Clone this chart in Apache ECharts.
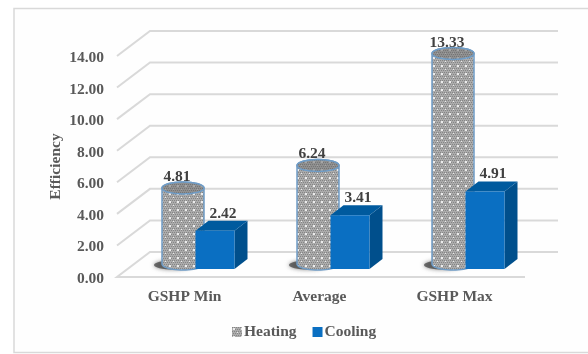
<!DOCTYPE html>
<html>
<head>
<meta charset="utf-8">
<style>
  html, body { margin: 0; padding: 0; background: #fff; }
  #chart { width: 588px; height: 354px; }
</style>
<script src="https://cdn.jsdelivr.net/npm/echarts@6/dist/echarts.min.js"></script>
</head>
<body>
<div id="chart"></div>
<script>
const categories = ["GSHP Min", "Average", "GSHP Max"];
const heating = [4.81, 6.24, 13.33];
const cooling = [2.42, 3.41, 4.91];
const yTicks = [0, 2, 4, 6, 8, 10, 12, 14];

const serif = "Liberation Serif";
const wallDx = 33, wallDy = -25;

// dotted fill used by the cylinders
const makePattern = (base, dark, light) => {
  const c = document.createElement("canvas");
  c.width = 8;
  c.height = 8;
  const g = c.getContext("2d");
  g.fillStyle = base;
  g.fillRect(0, 0, 8, 8);
  g.fillStyle = dark;
  for (let y = 0; y < 8; y += 2) {
    for (let x = (y / 2) % 2; x < 8; x += 2) g.fillRect(x, y, 1, 1);
  }
  g.fillStyle = light;
  g.fillRect(1, 1, 2, 2);
  g.fillRect(5, 5, 1, 1);
  return { image: c, repeat: "repeat" };
};
const dots = makePattern("#ababab", "#858585", "#ececec");
const dotsTop = makePattern("#8f8f8f", "#757575", "#a6a6a6");

const ellipsePoints = (cx, cy, rx, ry, from, to) => {
  const pts = [];
  for (let i = 0; i <= 24; i++) {
    const a = from + ((to - from) * i) / 24;
    pts.push([cx + rx * Math.cos(a), cy + ry * Math.sin(a)]);
  }
  return pts;
};

const valueLabel = (x, y, v) => ({
  type: "text",
  z2: 20,
  style: {
    x, y, text: v.toFixed(2), align: "center", verticalAlign: "middle",
    font: "bold 15.5px '" + serif + "'", fill: "#404040",
  },
});

// back wall and left side lines for each tick with its label, floor outline at 0
const renderWall = (params, api) => {
  const cs = params.coordSys;
  const tick = api.value(1);
  const y = api.coord([0, tick])[1];
  const left = cs.x, right = cs.x + cs.width + 3;
  const points = [[left, y], [left + wallDx, y + wallDy], [right + wallDx, y + wallDy]];
  if (tick === 0) {
    points.unshift([right, y]);
  }
  return {
    type: "group",
    children: [
      {
        type: "polyline", shape: { points }, silent: true,
        style: { stroke: "#d9d9d9", lineWidth: 2, fill: null },
      },
      {
        type: "text",
        style: {
          x: left - 13, y: y + 2, text: tick.toFixed(2), align: "right", verticalAlign: "middle",
          font: "bold 15.5px '" + serif + "'", fill: "#595959",
        },
      },
    ],
  };
};

const renderCylinder = (params, api) => {
  const cat = api.value(0), v = api.value(1);
  const base = api.coord([cat, 0]);
  const top = api.coord([cat, v]);
  const cx = base[0] - 1.5, rx = 21, ry = 6;
  const by = base[1] - 13, ty = top[1] - 13;
  const body = ellipsePoints(cx, by, rx, ry, 0, Math.PI)
    .concat(ellipsePoints(cx, ty, rx, ry, Math.PI, 2 * Math.PI));
  return {
    type: "group",
    children: [
      {
        type: "ellipse", silent: true,
        shape: { cx: cx - 10, cy: by + 1, rx: 19, ry: 4.5 },
        style: { fill: "rgba(70,70,70,0.75)", shadowBlur: 4, shadowColor: "rgba(60,60,60,0.8)" },
      },
      {
        type: "polygon", shape: { points: body },
        style: { fill: dots, stroke: "#6f9cc6", lineWidth: 1.5 },
      },
      {
        type: "ellipse",
        shape: { cx, cy: ty, rx, ry },
        style: { fill: dotsTop, stroke: "#6f9cc6", lineWidth: 1.5 },
      },
      valueLabel(cx - 6, ty - 11, v),
    ],
  };
};

const renderBox = (params, api) => {
  const cat = api.value(0), v = api.value(1);
  const base = api.coord([cat, 0]);
  const top = api.coord([cat, v]);
  const x0 = base[0] + 11, x1 = x0 + 39;
  const yb = base[1] - 8, yt = top[1] - 8;
  const dx = 13, dy = -10;
  return {
    type: "group",
    children: [
      {
        type: "polygon",
        shape: { points: [[x1, yt], [x1 + dx, yt + dy], [x1 + dx, yb + dy], [x1, yb]] },
        style: { fill: "#004f8c" },
      },
      {
        type: "polygon",
        shape: { points: [[x0, yt], [x0 + dx, yt + dy], [x1 + dx, yt + dy], [x1, yt]] },
        style: { fill: "#005a9e" },
      },
      {
        type: "rect",
        shape: { x: x0, y: yt, width: x1 - x0, height: yb - yt },
        style: { fill: "#0a6fc2" },
      },
      valueLabel((x0 + x1) / 2 + 8, yt + dy - 7, v),
    ],
  };
};

const chart = echarts.init(document.getElementById("chart"), null, { renderer: "canvas" });
chart.setOption({
  animation: false,
  backgroundColor: "#fff",
  graphic: [
    {
      type: "rect", silent: true, z: -1,
      shape: { x: 14, y: 8.5, width: 590, height: 344 },
      style: { fill: "#fefefe", stroke: "#d9d9d9", lineWidth: 1.5 },
    },
  ],
  grid: { left: 117, right: 66, top: 56, bottom: 77 },
  legend: {
    left: 227,
    top: 319,
    icon: "rect",
    itemWidth: 10,
    itemHeight: 10,
    itemGap: 16,
    data: ["Heating", "Cooling"],
    textStyle: {
      fontFamily: serif, fontWeight: "bold", fontSize: 15.5, color: "#595959",
      padding: [0, 0, 0, -3],
    },
  },
  xAxis: {
    type: "category",
    data: categories,
    axisLine: { show: false },
    axisTick: { show: false },
    axisLabel: {
      margin: 12, fontFamily: serif, fontWeight: "bold", fontSize: 15.5, color: "#595959",
    },
  },
  yAxis: {
    type: "value",
    min: 0,
    max: 14,
    interval: 2,
    name: "Efficiency",
    nameLocation: "middle",
    nameRotate: 90,
    nameGap: 53,
    nameTextStyle: { fontFamily: serif, fontWeight: "bold", fontSize: 15.5, color: "#595959" },
    axisLine: { show: false },
    axisTick: { show: false },
    splitLine: { show: false },
    axisLabel: { show: false },
  },
  series: [
    {
      name: "wall",
      type: "custom",
      z: 1,
      silent: true,
      clip: false,
      renderItem: renderWall,
      encode: { x: 0, y: 1 },
      data: yTicks.map((t) => [0, t]),
    },
    {
      name: "Heating",
      type: "custom",
      z: 2,
      clip: false,
      renderItem: renderCylinder,
      itemStyle: { color: dots },
      encode: { x: 0, y: 1 },
      data: heating.map((v, i) => [i, v]),
    },
    {
      name: "Cooling",
      type: "custom",
      z: 3,
      clip: false,
      renderItem: renderBox,
      itemStyle: { color: "#0a6fc2" },
      encode: { x: 0, y: 1 },
      data: cooling.map((v, i) => [i, v]),
    },
  ],
});
</script>
</body>
</html>
